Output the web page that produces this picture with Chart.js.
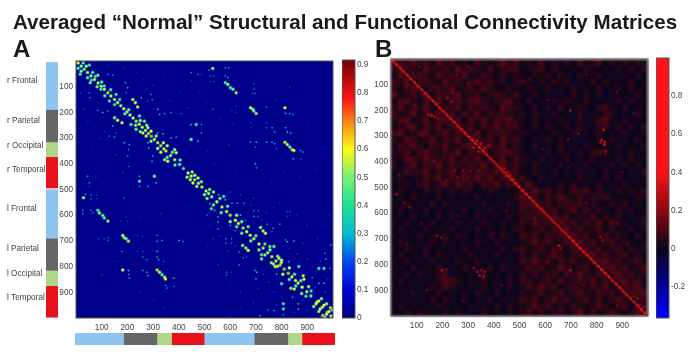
<!DOCTYPE html>
<html>
<head>
<meta charset="utf-8">
<script src="https://cdn.jsdelivr.net/npm/chart.js@4"></script>
<style>
  html, body { margin: 0; background: #fff; }
  body { width: 692px; height: 354px; position: relative; overflow: hidden; font-family: "Liberation Sans", Arial, sans-serif; }
  canvas { position: absolute; }
  .soft { filter: blur(0.5px); }
  .softer { filter: blur(0.9px); }
  .txt { position: absolute; font-weight: bold; color: #1a1a1a; white-space: nowrap; filter: blur(0.3px); }
</style>
</head>
<body>
<div class="txt" style="left:13px;top:10px;font-size:20.6px">Averaged “Normal” Structural and Functional Connectivity Matrices</div>
<div class="txt" style="left:13px;top:35px;font-size:24px">A</div>
<div class="txt" style="left:375px;top:35px;font-size:24px">B</div>
<canvas id="stripLeft" class="soft"></canvas>
<canvas id="stripBottom" class="soft"></canvas>
<canvas id="matrixA" class="soft"></canvas>
<canvas id="barA" class="soft"></canvas>
<canvas id="matrixBGround" class="softer"></canvas>
<canvas id="matrixB" class="soft"></canvas>
<canvas id="barB" class="soft"></canvas>
<script>
const matrixTicks = [100, 200, 300, 400, 500, 600, 700, 800, 900];
const regionNames = ['r Frontal', 'r Parietal', 'r Occipital', 'r Temporal', 'l Frontal', 'l Parietal', 'l Occipital', 'l Temporal'];
const regionColors = ['#8fc4ee', '#666666', '#aed68c', '#e8101c', '#8fc4ee', '#666666', '#aed68c', '#e8101c'];
const regionLabelAt = [81, 236, 333, 426, 576, 733, 830, 922];
// left strip has small white gaps (top and between hemispheres)
const leftSizes = [7, 185, 125, 58, 121, 4, 191, 124, 60, 122];
const leftColors = ['#fff', '#8fc4ee', '#666666', '#aed68c', '#e8101c', '#fff', '#8fc4ee', '#666666', '#aed68c', '#e8101c'];
const bottomSizes = [188, 129, 57, 126, 194, 130, 55, 128];

const ticksBarA = [0, 0.1, 0.2, 0.3, 0.4, 0.5, 0.6, 0.7, 0.8, 0.9];
const ticksBarB = [-0.2, 0, 0.2, 0.4, 0.6, 0.8];

// colour stops of the A colorbar
const stopsA = [
  [0, [0, 0, 130]], [0.1, [0, 0, 215]], [0.2, [0, 70, 240]], [0.3, [0, 190, 210]],
  [0.4, [30, 225, 150]], [0.5, [120, 240, 110]], [0.6, [255, 250, 20]], [0.7, [250, 130, 20]],
  [0.78, [250, 20, 20]], [0.92, [115, 0, 5]]
];
const stopsB = [
  [-0.365, [0, 0, 255]], [-0.2, [0, 0, 150]], [0, [10, 6, 24]], [0.2, [140, 8, 16]], [0.4, [250, 16, 24]], [1, [255, 20, 30]]
];

// structural matrix: diagonal [index, value]
const diagA = [
  [8, .6], [20, .55], [32, .5], [45, .62], [58, .55], [72, .6], [86, .62], [98, .58], [110, .6], [124, .65], [136, .58],
  [150, .6], [162, .62], [174, .55], [186, .6], [198, .5], [210, .58], [222, .6], [234, .65], [246, .6], [258, .6],
  [270, .62], [282, .65], [293, .7], [305, .6], [318, .62], [330, .65], [342, .62], [350, .62], [368, .58], [384, .56],
  [403, .52], [418, .45], [436, .6], [448, .62], [462, .65], [476, .62], [490, .62], [506, .6], [516, .58], [528, .55],
  [548, .6], [568, .62], [586, .6], [600, .65], [620, .6], [632, .62], [650, .65], [664, .6], [678, .6], [692, .62],
  [712, .6], [728, .65], [746, .6], [762, .65], [778, .62], [794, .66], [810, .7], [826, .68], [840, .62], [854, .6],
  [864, .62], [880, .6], [898, .62], [914, .5], [938, .6], [958, .62], [978, .66], [992, .62]
];

// structural matrix: off diagonal cells [column, row, value], the picture is symmetric
const linksA = [
  [52, 16, .45], [65, 45, .5], [85, 55, .5], [124, 52, .3], [143, 55, .3], [188, 29, .2], [192, 85, .35], [201, 104, .4],
  [195, 123, .3], [156, 130, .45], [110, 97, .45], [221, 150, .55], [231, 162, .6], [240, 179, .6], [292, 130, .3],
  [296, 150, .3], [318, 188, .4], [325, 208, .35], [345, 205, .3], [370, 201, .3], [410, 205, .25], [253, 143, .35],
  [280, 156, .25], [247, 214, .5], [266, 234, .5], [280, 260, .6], [292, 273, .6], [318, 280, .4], [338, 283, .4],
  [370, 299, .4], [390, 296, .35], [448, 247, .4], [468, 247, .45], [488, 247, .3], [448, 305, .5], [474, 312, .4],
  [488, 280, .3], [448, 45, .3], [474, 52, .3], [448, 78, .2], [488, 52, .2], [435, 182, .2], [384, 345, .55],
  [390, 357, .6], [452, 432, .55], [462, 445, .6], [475, 455, .6], [488, 470, .55],
  [532, 29, .55], [519, 36, .3], [581, 26, .3], [594, 26, .3], [581, 58, .3], [591, 65, .3], [523, 58, .25], [536, 58, .25],
  [523, 81, .2], [536, 81, .2], [581, 85, .45], [591, 91, .55], [601, 104, .5], [611, 110, .5], [623, 124, .65],
  [689, 36, .15], [692, 88, .25], [692, 110, .25], [688, 126, .25], [698, 126, .25], [832, 101, .2],
  [679, 182, .6], [688, 188, .55], [692, 195, .5], [701, 204, .65], [533, 188, .25], [607, 195, .2], [623, 175, .2],
  [623, 201, .2], [741, 179, .3], [813, 182, .6], [815, 204, .4], [832, 205, .3], [845, 208, .3],
  [679, 240, .2], [682, 260, .2], [741, 240, .2], [741, 260, .25], [763, 260, .3], [773, 276, .3], [815, 260, .35],
  [822, 276, .4], [835, 280, .4], [679, 316, .3], [702, 316, .35], [698, 335, .3], [741, 316, .35], [763, 316, .35],
  [773, 322, .35], [780, 341, .25], [813, 316, .65], [822, 325, .6], [832, 335, .5], [841, 345, .65], [848, 348, .6],
  [874, 348, .3], [883, 354, .3], [845, 381, .4], [877, 381, .25], [698, 400, .35], [702, 416, .3], [594, 328, .2], [519, 104, .15],
  [555, 521, .4], [575, 527, .45], [581, 540, .4], [607, 553, .35], [627, 553, .35], [653, 553, .3], [692, 534, .2],
  [692, 583, .3], [709, 583, .3], [692, 605, .3], [709, 605, .25], [793, 553, .2], [822, 586, .25], [832, 586, .25],
  [822, 605, .2], [793, 635, .3], [767, 651, .3], [718, 648, .55], [728, 661, .55], [737, 670, .6], [744, 635, .3],
  [763, 664, .25], [815, 696, .35], [822, 703, .4], [848, 700, .35], [884, 710, .2], [754, 722, .5], [770, 722, .5],
  [790, 768, .55], [799, 784, .6], [828, 781, .35], [867, 800, .45], [884, 836, .55], [887, 849, .6], [945, 807, .45],
  [965, 807, .45], [971, 771, .35], [968, 748, .3], [991, 716, .3], [988, 807, .3], [919, 843, .3], [945, 865, .4],
  [965, 865, .4], [905, 878, .55], [945, 934, .6], [965, 950, .6], [997, 969, .5], [955, 925, .55], [975, 945, .55],
  [990, 960, .65], [985, 975, .6],
  // close to the diagonal, thickens the band
  [40, 20, .55], [28, 8, .5], [75, 60, .45], [100, 82, .5], [135, 112, .5], [170, 150, .45], [205, 190, .5], [250, 232, .55],
  [275, 250, .55], [312, 292, .55], [340, 318, .6], [355, 330, .6], [375, 355, .5], [405, 385, .5], [520, 500, .55],
  [535, 510, .55], [560, 535, .5], [590, 565, .5], [625, 600, .55], [645, 625, .5], [670, 645, .5], [700, 680, .5],
  [735, 712, .5], [755, 735, .55], [785, 760, .55], [800, 775, .6], [830, 805, .6], [850, 830, .5], [875, 855, .5], [915, 895, .45],
  // dim scattered cells
  [125, 18, .2], [160, 10, .15], [235, 45, .15], [260, 70, .15], [345, 60, .15], [405, 120, .15], [420, 75, .12],
  [300, 95, .2], [275, 110, .2], [365, 155, .18], [480, 118, .15], [510, 160, .15], [560, 225, .15], [610, 245, .15],
  [640, 95, .12], [660, 60, .12], [735, 110, .12], [780, 150, .15], [880, 140, .12], [940, 90, .12], [900, 250, .15],
  [930, 300, .15], [960, 340, .15], [930, 420, .15], [870, 450, .15], [810, 430, .15], [760, 470, .15], [720, 510, .15],
  [660, 470, .12], [620, 430, .15], [570, 440, .15], [540, 400, .15], [510, 350, .15], [545, 280, .12], [590, 520, .2],
  [640, 520, .2], [680, 560, .2], [740, 590, .2], [770, 570, .15], [860, 600, .15], [900, 640, .2], [940, 690, .2],
  [960, 640, .15], [985, 600, .15], [860, 750, .2], [900, 770, .2], [830, 730, .2], [920, 800, .2], [950, 780, .2],
  [980, 850, .2], [970, 900, .2], [930, 880, .2], [640, 600, .35], [660, 620, .3], [600, 510, .25], [720, 620, .2]
];

// functional matrix: coarse cells, 25 units each, one digit per cell (digit * 0.03 - 0.04)
// the fine grain of the picture is only approximated here
const rowsB = [
  '5435342534231432353423141323142341323232',
  '3543253342534324234412341321213212131313',
  '2534432534352243232321323132132231212131',
  '4352443253423534231342131323021313121312',
  '3245324435234253223213213121322131231312',
  '5234352443523423432421312021313130212131',
  '2453243524434532345213121323213112131312',
  '3524352343524343254321313131232134213121',
  '4235243534243524343231321312131214312132',
  '3452352453424352445321312132131245213121',
  '2345243524534243534421313213132134131313',
  '4523452352443524343232121321312131213112',
  '3254235243524434253421213131202131312131',
  '2435324352345244352321312131213212131213',
  '3342453243524352445321213132131343121321',
  '2254354335243524352432131213121312131312',
  '3135243524334352453421312131213121313131',
  '1243352435243443534421321312131213121213',
  '2312243524353535244342131212131213130212',
  '1231342352534243524435212131312131213121',
  '2312132313232123212243534232434232132323',
  '1213121312121312121354424353242334212132',
  '2131213131212131213144534234342321323121',
  '1312131212131213121243453423524232132312',
  '1213121313121321213134344534232423231212',
  '2131213121312132131242534453424352432123',
  '1312131213121312121332342445342342321312',
  '2121312131321213132143424344534234232131',
  '1321213132121321312123534234453423423212',
  '2132131212131212131342342432445342342323',
  '1312131321213121312132423532344534234231',
  '2131213121321312121243534243423445342342',
  '1213121312131213132224342353234234534234',
  '2131312340212131212132423424353243453423',
  '1312121354312131213143234242343524345342',
  '2121213243212131213124353423432435234453',
  '1213121312131321312132342342353243423445',
  '2121213132121213121243423534234242353234',
  '1312121321212121313223534232432353234243',
  '2131312131312131213134242342352423432354'
];
// functional matrix: diagonal [index, value]
const diagB = [
  [8, .5], [22, .36], [36, .34], [50, .32], [64, .36], [78, .34], [92, .32], [106, .36], [120, .36], [134, .34], [148, .32],
  [162, .36], [176, .34], [190, .36], [204, .34], [218, .36], [232, .38], [246, .34], [260, .32], [274, .36], [288, .38],
  [302, .4], [316, .42], [330, .46], [344, .44], [358, .36], [372, .34], [386, .28], [400, .26], [414, .24], [428, .28],
  [442, .3], [456, .36], [470, .42], [484, .5], [498, .46], [512, .55], [526, .42], [540, .38], [554, .34], [568, .32],
  [582, .3], [596, .3], [610, .28], [624, .3], [638, .28], [652, .28], [666, .24], [680, .28], [694, .36], [708, .52],
  [722, .46], [736, .55], [750, .36], [764, .36], [778, .34], [792, .36], [806, .38], [820, .4], [834, .42], [848, .36],
  [862, .32], [876, .36], [890, .36], [904, .32], [918, .3], [932, .3], [946, .3], [960, .34], [974, .38], [988, .42], [998, .5]
];
// functional matrix: brighter cells off the diagonal [column, row, value]
const spotsB = [
  [145, 216, .3], [158, 220, .34], [170, 226, .28], [182, 232, .22], [220, 152, .26], [235, 165, .22], [335, 318, .36],
  [350, 330, .38], [365, 345, .32], [380, 338, .26], [322, 345, .3], [340, 360, .26], [250, 432, .2], [280, 434, .2],
  [310, 436, .2], [345, 436, .2], [260, 460, .18], [300, 462, .18], [440, 425, .3], [452, 440, .3], [464, 452, .32],
  [478, 468, .34], [432, 440, .22], [446, 455, .25], [827, 276, .34], [820, 315, .38], [832, 322, .38], [830, 333, .4],
  [815, 325, .3], [835, 360, .25], [698, 200, .3], [730, 290, .2], [690, 312, .2], [179, 687, .25], [195, 695, .2],
  [199, 822, .32], [215, 818, .2], [335, 827, .32], [352, 822, .26], [365, 828, .3], [345, 842, .32], [360, 846, .3],
  [322, 812, .26], [21, 526, .26], [73, 577, .24], [50, 560, .2], [653, 726, .32], [660, 736, .25], [699, 822, .32],
  [816, 692, .26], [824, 705, .24], [945, 925, .26], [960, 930, .24], [965, 960, .25], [975, 980, .26], [985, 965, .2],
  [110, 30, .2], [255, 60, .18], [300, 30, .16], [240, 130, .2], [300, 95, .2],
  [60, 110, .16], [95, 180, .18], [40, 240, .16], [120, 300, .18], [70, 365, .16], [170, 400, .18], [30, 450, .16], [215, 470, .18],
  [540, 80, .14], [610, 160, .14], [760, 60, .14], [880, 130, .14], [945, 210, .14], [690, 420, .14], [590, 350, .14], [900, 440, .14],
  [120, 640, .16], [60, 720, .14], [260, 610, .14], [400, 680, .14], [450, 590, .14], [140, 900, .16], [280, 940, .14], [430, 880, .14],
  [560, 620, .18], [610, 790, .18], [750, 880, .18], [880, 640, .16], [640, 930, .16], [760, 560, .18], [920, 720, .16], [880, 960, .18]
];

const mix = (stops, v) => {
  if (v <= stops[0][0]) return stops[0][1];
  for (let i = 1; i < stops.length; i++) {
    if (v <= stops[i][0]) {
      const t = (v - stops[i - 1][0]) / (stops[i][0] - stops[i - 1][0]);
      return stops[i - 1][1].map((c, k) => Math.round(c + (stops[i][1][k] - c) * t));
    }
  }
  return stops[stops.length - 1][1];
};
const rgb = (c, a = 1) => `rgba(${c[0]},${c[1]},${c[2]},${a})`;

const tickFont = { family: '"Liberation Sans", Arial, sans-serif', size: 8.2 };
const tickColor = '#444';

const place = (id, left, top, width, height) => {
  const el = document.getElementById(id);
  el.width = width;
  el.height = height;
  el.style.left = left + 'px';
  el.style.top = top + 'px';
  return el;
};

const areaFill = (color, frame) => ({
  id: 'areaFill',
  beforeDatasetsDraw(chart) {
    const { ctx, chartArea: a } = chart;
    ctx.fillStyle = color;
    ctx.fillRect(a.left, a.top, a.width, a.height);
  },
  afterDatasetsDraw(chart) {
    if (!frame) return;
    const { ctx, chartArea: a } = chart;
    ctx.strokeStyle = '#555';
    ctx.lineWidth = 1;
    ctx.strokeRect(a.left, a.top, a.width, a.height);
  }
});

const baseOptions = {
  responsive: false,
  animation: false,
  events: [],
  plugins: { legend: { display: false }, tooltip: { enabled: false } }
};

const drawMatrix = (id, box, fill, datasets, showAxes = true) => {
  const el = place(id, box.left - 36, box.top - 4, box.size + 40, box.size + 28);
  const color = showAxes ? tickColor : 'transparent';
  return new Chart(el, {
    type: 'scatter',
    data: { datasets },
    options: {
      ...baseOptions,
      layout: { padding: { top: 4, right: 4, left: 0, bottom: 0 } },
      scales: {
        x: {
          min: 0, max: 1000,
          afterBuildTicks: s => { s.ticks = matrixTicks.map(value => ({ value })); },
          afterFit: s => { s.height = 24; s.paddingLeft = 0; s.paddingRight = 0; },
          grid: { display: false, drawTicks: false }, border: { display: false },
          ticks: { font: tickFont, color, padding: 5, maxRotation: 0, autoSkip: false }
        },
        y: {
          min: 0, max: 1000, reverse: true,
          afterBuildTicks: s => { s.ticks = matrixTicks.map(value => ({ value })); },
          afterFit: s => { s.width = 36; s.paddingTop = 0; s.paddingBottom = 0; },
          grid: { display: false, drawTicks: false }, border: { display: false },
          ticks: { font: tickFont, color, padding: 3, autoSkip: false }
        }
      }
    },
    plugins: [areaFill(fill, showAxes)]
  });
};

const drawColorbar = (id, left, top, width, height, min, max, ticks, stops) => {
  const el = place(id, left, top - 6, width + 26, height + 12);
  return new Chart(el, {
    type: 'bar',
    data: {
      labels: ['scale'],
      datasets: [{
        data: [[min, max]],
        categoryPercentage: 1, barPercentage: 1,
        backgroundColor: ctx => {
          const a = ctx.chart.chartArea;
          if (!a) return '#000';
          const g = ctx.chart.ctx.createLinearGradient(0, a.bottom, 0, a.top);
          stops.forEach(s => g.addColorStop(Math.min(1, Math.max(0, (s[0] - min) / (max - min))), rgb(s[1])));
          return g;
        }
      }]
    },
    options: {
      ...baseOptions,
      layout: { padding: { top: 6, bottom: 6, left: 0, right: 0 } },
      scales: {
        x: { display: false },
        y: {
          position: 'right', min, max,
          afterBuildTicks: s => { s.ticks = ticks.map(value => ({ value })); },
          afterFit: s => { s.width = 26; s.paddingTop = 0; s.paddingBottom = 0; },
          grid: { display: false, drawTicks: false }, border: { display: false },
          ticks: { font: tickFont, color: tickColor, padding: 2, autoSkip: false, callback: v => String(v) }
        }
      }
    },
    plugins: [areaFill('transparent', true)]
  });
};

new Chart(place('stripLeft', 7, 60, 51, 258), {
  type: 'bar',
  data: {
    labels: ['regions'],
    datasets: leftSizes.map((size, i) => ({
      data: [size], backgroundColor: leftColors[i], categoryPercentage: 1, barPercentage: 1
    }))
  },
  options: {
    ...baseOptions,
    scales: {
      x: { display: false, stacked: true },
      y: {
        stacked: true, reverse: true, min: 0, max: 1000,
        afterBuildTicks: s => { s.ticks = regionLabelAt.map(value => ({ value })); },
        afterFit: s => { s.width = 39; s.paddingTop = 0; s.paddingBottom = 0; },
        grid: { display: false, drawTicks: false }, border: { display: false },
        ticks: {
          font: tickFont, color: tickColor, autoSkip: false, padding: 0, crossAlign: 'far',
          callback: (v, i) => regionNames[i]
        }
      }
    }
  }
});

new Chart(place('stripBottom', 75, 333, 260, 12), {
  type: 'bar',
  data: {
    labels: ['regions'],
    datasets: bottomSizes.map((size, i) => ({
      data: [size], backgroundColor: regionColors[i], categoryPercentage: 1, barPercentage: 1
    }))
  },
  options: {
    ...baseOptions,
    indexAxis: 'y',
    scales: {
      x: { display: false, stacked: true, min: 0, max: 1007 },
      y: { display: false, stacked: true }
    }
  }
});

// matrix A, first dataset is drawn on top
const cellsA = [
  ...diagA.map(([i, v]) => ({ x: i, y: i, v })),
  ...linksA.map(([x, y, v]) => ({ x, y, v })),
  ...linksA.map(([x, y, v]) => ({ x: y, y: x, v }))
];
drawMatrix('matrixA', { left: 75.5, top: 60.5, size: 257 }, '#00008a', [
  {
    data: cellsA, pointStyle: 'circle', pointBorderWidth: 0,
    pointRadius: c => c.raw.v > 0.4 ? 1.3 : 0.7,
    pointBackgroundColor: c => rgb(mix(stopsA, c.raw.v))
  },
  {
    data: cellsA, pointStyle: 'circle', pointBorderWidth: 0,
    pointRadius: c => c.raw.v > 0.4 ? 2 : 1.1,
    pointBackgroundColor: c => rgb(mix(stopsA, c.raw.v * 0.6), 0.6)
  }
]);
drawColorbar('barA', 342, 60, 13.5, 258, 0, 0.917, ticksBarA, stopsA);

// matrix B, the mottled ground sits on its own blurred canvas
const cellsB = rowsB.flatMap((row, r) => [...row].map((d, c) => ({
  x: c * 25 + 12.5, y: r * 25 + 12.5, v: +d * 0.03 - 0.04
})));
drawMatrix('matrixBGround', { left: 390.7, top: 58.5, size: 257 }, '#0a0618', [{
  data: cellsB, pointStyle: 'rect', pointBorderWidth: 0, pointRadius: 4.6,
  pointBackgroundColor: c => rgb(mix(stopsB, c.raw.v))
}], false);
drawMatrix('matrixB', { left: 390.7, top: 58.5, size: 257 }, 'transparent', [
  {
    data: diagB.map(([i, v]) => ({ x: i, y: i, v })), pointStyle: 'circle', pointBorderWidth: 0, pointRadius: 1.4,
    showLine: true, borderWidth: 2, borderColor: 'rgba(175,22,25,0.8)',
    pointBackgroundColor: c => rgb(mix(stopsB, c.raw.v), 0.9)
  },
  {
    data: spotsB.map(([x, y, v]) => ({ x, y, v })), pointStyle: 'circle', pointBorderWidth: 0, pointRadius: 1.5,
    pointBackgroundColor: c => rgb(mix(stopsB, c.raw.v), 0.75)
  }
]);
drawColorbar('barB', 656, 58, 13.5, 260, -0.365, 1, ticksBarB, stopsB);
</script>
</body>
</html>
